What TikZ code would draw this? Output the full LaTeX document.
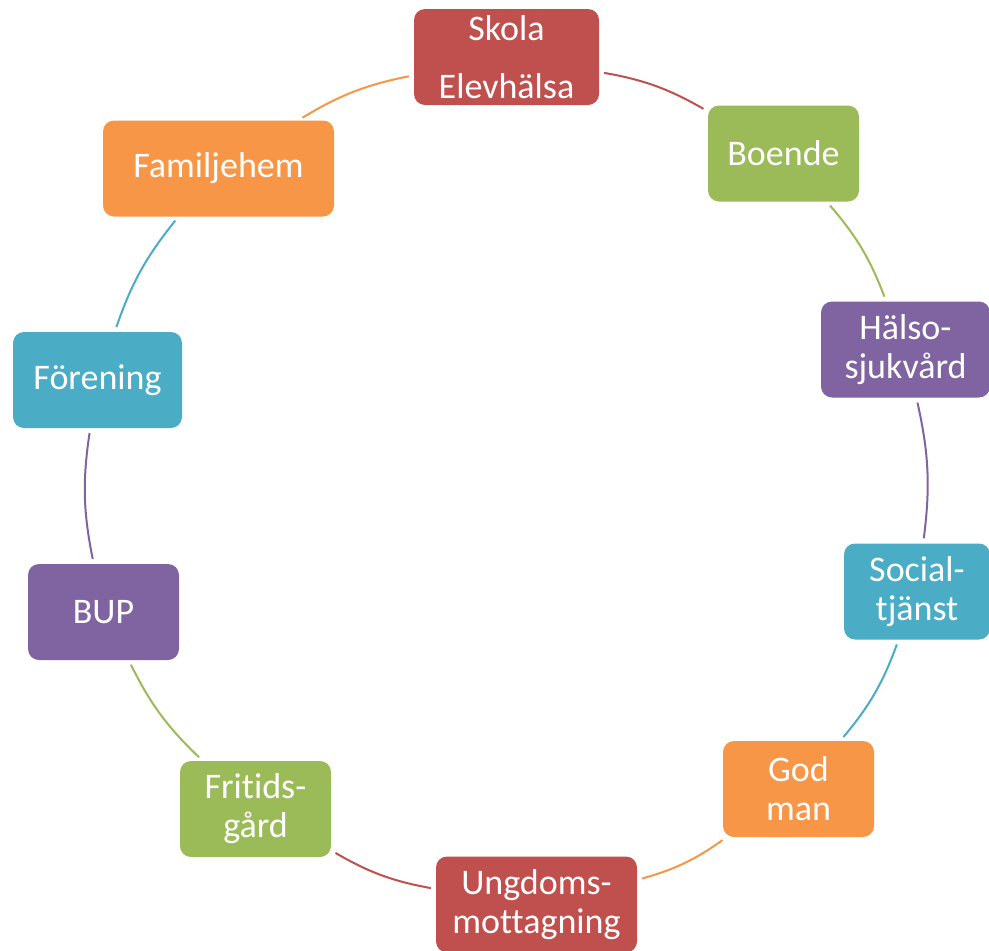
\documentclass[tikz,border=0pt]{standalone}
\usepackage{fontspec}
\setmainfont{Carlito}[Ligatures=NoCommon]
\definecolor{cred}{HTML}{C0504D}
\definecolor{cgreen}{HTML}{9BBB59}
\definecolor{cpurple}{HTML}{8064A2}
\definecolor{caqua}{HTML}{4BACC6}
\definecolor{corange}{HTML}{F79646}
\begin{document}
\begin{tikzpicture}[x=1pt,y=1pt,
  box/.style={rectangle, rounded corners=11pt, minimum height=96pt, text=white,
    font=\fontsize{36}{39}\selectfont, align=center, inner sep=0pt},
  link/.style={line width=2pt, bend left=10, shorten <=5pt, shorten >=5pt},
]
\useasboundingbox (0,0) rectangle (989,-951);
\node[box, fill=cred,    minimum width=185pt] (skola)  at (506.5,-57)  {Skola\\[19pt]Elevhälsa};
\node[box, fill=cgreen,  minimum width=151pt] (boende) at (783.5,-153.5) {Boende};
\node[box, fill=cpurple, minimum width=169pt] (halso)  at (905.5,-349.5) {Hälso-\\sjukvård};
\node[box, fill=caqua,   minimum width=146pt] (social) at (917,-591.5) {Social-\\tjänst};
\node[box, fill=corange, minimum width=151pt] (godman) at (798.5,-789) {God\\man};
\node[box, fill=cred,    minimum width=201pt] (ungdom) at (536.5,-904.5) {Ungdoms-\\mottagning};
\node[box, fill=cgreen,  minimum width=151pt] (fritid) at (255.5,-809) {Fritids-\\gård};
\node[box, fill=cpurple, minimum width=151pt] (bup)    at (103.5,-612) {BUP};
\node[box, fill=caqua,   minimum width=169pt] (foren)  at (97.5,-380) {Förening};
\node[box, fill=corange, minimum width=231pt] (famil)  at (218.5,-168.5) {Familjehem};

\draw[link, cred]    (skola)  to (boende);
\draw[link, cgreen]  (boende) to (halso);
\draw[link, cpurple] (halso)  to (social);
\draw[link, caqua]   (social) to (godman);
\draw[link, corange] (godman) to (ungdom);
\draw[link, cred]    (ungdom) to (fritid);
\draw[link, cgreen]  (fritid) to (bup);
\draw[link, cpurple] (bup)    to (foren);
\draw[link, caqua]   (foren)  to (famil);
\draw[link, corange] (famil)  to (skola);
\end{tikzpicture}
\end{document}
